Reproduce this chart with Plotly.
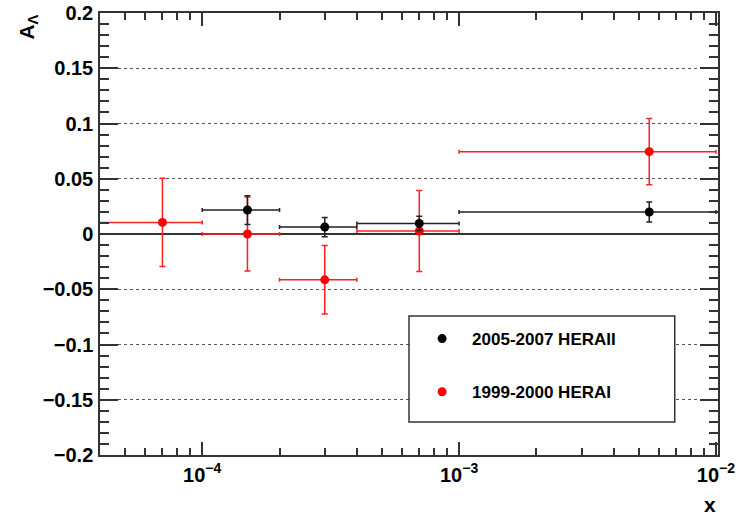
import numpy as np
import plotly.graph_objects as go

# HERA II (2005-2007)
x2 = [1.5e-4, 3.0e-4, 7.0e-4, 5.5e-3]
x2_lo = [1.0e-4, 2.0e-4, 4.0e-4, 1.0e-3]
x2_hi = [2.0e-4, 4.0e-4, 1.0e-3, 1.0e-2]
y2 = [0.0217, 0.0063, 0.0096, 0.0199]
e2 = [0.013, 0.0087, 0.0065, 0.009]

# HERA I (1999-2000)
x1 = [7.0e-5, 1.5e-4, 3.0e-4, 7.0e-4, 5.5e-3]
x1_lo = [3.0e-5, 1.0e-4, 2.0e-4, 4.0e-4, 1.0e-3]
x1_hi = [1.0e-4, 2.0e-4, 4.0e-4, 1.0e-3, 1.0e-2]
y1 = [0.0105, 0.0, -0.0415, 0.0027, 0.0745]
e1 = [0.040, 0.0335, 0.031, 0.0367, 0.030]

ytickvals = [-0.2, -0.15, -0.1, -0.05, 0, 0.05, 0.1, 0.15, 0.2]
yticktext = ["\u22120.2", "\u22120.15", "\u22120.1", "\u22120.05", "0", "0.05", "0.1", "0.15", "0.2"]
xtickvals = [1e-4, 1e-3, 1e-2]
xticktext = ["10<sup>\u22124</sup>", "10<sup>\u22123</sup>", "10<sup>\u22122</sup>"]
xminor = [m * 10.0**d for d in (-5, -4, -3) for m in range(2, 10)]

FONT = "Liberation Sans"

def xerrs(x, lo, hi):
    return dict(type="data", symmetric=False,
                array=[h - v for v, h in zip(x, hi)],
                arrayminus=[v - l for v, l in zip(x, lo)])

fig = go.Figure()
fig.add_trace(go.Scatter(
    x=x1, y=y1, mode="markers", name="1999-2000 HERAI",
    legendgroup="b", legendrank=2,
    marker=dict(color="#ff0000", size=9),
    error_x=dict(**xerrs(x1, x1_lo, x1_hi), color="#ff2020", thickness=1.5, width=2),
    error_y=dict(type="data", array=e1, color="#ff2020", thickness=1.5, width=3),
))
fig.add_trace(go.Scatter(
    x=x2, y=y2, mode="markers", name="2005-2007 HERAII",
    legendgroup="a", legendrank=1,
    marker=dict(color="#000000", size=9),
    error_x=dict(**xerrs(x2, x2_lo, x2_hi), color="#222222", thickness=1.5, width=2),
    error_y=dict(type="data", array=e2, color="#222222", thickness=1.5, width=3),
))

fig.update_layout(
    width=737, height=517,
    margin=dict(l=100, r=19, t=13, b=62, autoexpand=False),
    paper_bgcolor="white", plot_bgcolor="white",
    showlegend=True,
    legend=dict(x=0.505, y=0.303, xanchor="left", yanchor="top",
                bgcolor="rgba(0,0,0,0)", borderwidth=0,
                font=dict(family=FONT, size=17, color="black", weight="bold"),
                traceorder="grouped", tracegroupgap=28, itemwidth=50),
    xaxis=dict(type="log", range=[np.log10(4e-5), -1.992],
               tickvals=xtickvals, ticktext=xticktext,
               ticks="inside", ticklen=13, tickwidth=1.5, tickcolor="#333",
               minor=dict(tickvals=xminor, ticks="inside", ticklen=7, tickwidth=1.5, tickcolor="#333"),
               showline=True, linecolor="#333", linewidth=1.5, mirror="ticks",
               showgrid=False, zeroline=False, automargin=False,
               tickfont=dict(family=FONT, size=20, color="black", weight="bold"),
               ticklabelstandoff=1, layer="above traces"),
    yaxis=dict(range=[-0.2, 0.2], tickvals=ytickvals, ticktext=yticktext,
               ticks="inside", ticklen=18, tickwidth=1.5, tickcolor="#333",
               minor=dict(dtick=0.01, tick0=0, ticks="inside", ticklen=9, tickwidth=1.5, tickcolor="#333"),
               showline=True, linecolor="#333", linewidth=1.5, mirror="ticks",
               showgrid=True, gridcolor="#555", griddash="dot", gridwidth=1,
               zeroline=True, zerolinecolor="#333", zerolinewidth=1.5, automargin=False,
               tickfont=dict(family=FONT, size=20, color="black", weight="bold"),
               ticklabelstandoff=1, layer="above traces"),
    shapes=[dict(type="rect", xref="paper", yref="paper",
                 x0=0.5, x1=0.930, y0=0.0747, y1=0.3145,
                 line=dict(color="#333", width=1.5), fillcolor="white", layer="above")],
    annotations=[
        dict(text="A<sub>\u039b</sub>", xref="paper", yref="paper", x=-0.118, y=1.0,
             xanchor="center", yanchor="top", textangle=-90, showarrow=False,
             font=dict(family=FONT, size=21, color="black", weight="bold")),
        dict(text="x", xref="paper", yref="paper", x=1.0, y=-0.112,
             xanchor="right", yanchor="middle", showarrow=False,
             font=dict(family=FONT, size=21, color="black", weight="bold")),
    ],
)

fig.write_html("out.html")
